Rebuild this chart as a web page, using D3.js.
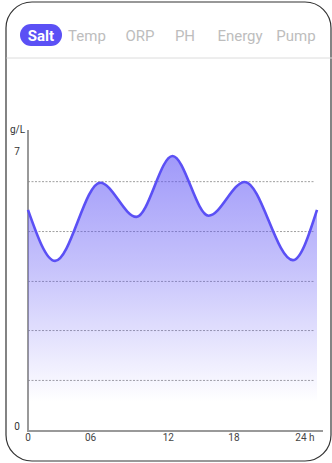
<!DOCTYPE html>
<html>
<head>
<meta charset="utf-8">
<script src="https://cdn.jsdelivr.net/npm/d3@7"></script>
<style>
  html, body { margin: 0; padding: 0; background: #fff; }
  svg { display: block; font-family: Roboto, "Noto Sans", sans-serif; }
</style>
</head>
<body>
<svg width="332" height="463"></svg>
<script>
// tabs along the top
const tabs = ["Salt", "Temp", "ORP", "PH", "Energy", "Pump"];
const tabCenters = [41, 87, 140, 185, 240, 296];
const activeTab = "Salt";

// salt level over the day (g/L)
const hours = [0, 2.25, 6, 9, 12, 15, 18, 22, 24];
const salt = [5.63, 4.33, 6.32, 5.45, 7.0, 5.48, 6.34, 4.35, 5.63];

const gridValues = [1.3, 2.57, 3.82, 5.09, 6.36];
const yTicks = [0, 7];
const xTickLabels = ["0", "06", "12", "18", "24 h"];
const xTickHours = [0, 5.2, 11.65, 17.1, 23.8];

const svg = d3.select("svg");

// card
svg.append("rect")
    .attr("x", 6).attr("y", 2)
    .attr("width", 325).attr("height", 459)
    .attr("rx", 26).attr("ry", 26)
    .attr("fill", "#fff")
    .attr("stroke", "#333")
    .attr("stroke-width", 1.2);

svg.append("line")
    .attr("x1", 6.5).attr("x2", 332)
    .attr("y1", 58).attr("y2", 58)
    .attr("stroke", "#dcdcdc");

// tab bar
const tabG = svg.append("g");
tabG.append("rect")
    .attr("x", 20).attr("y", 24)
    .attr("width", 42).attr("height", 22)
    .attr("rx", 11)
    .attr("fill", "#5b50f5");

tabG.selectAll("text.tab")
    .data(tabs)
    .enter().append("text")
    .attr("class", "tab")
    .attr("x", (d, i) => tabCenters[i])
    .attr("y", 40.5)
    .attr("text-anchor", "middle")
    .attr("font-size", 15)
    .attr("font-weight", d => d == activeTab ? 700 : 400)
    .attr("fill", d => d == activeTab ? "#fff" : "#bdbdbd")
    .text(d => d);

// scales
const x = d3.scaleLinear().domain([0, 24]).range([28, 317]);
const y = d3.scaleLinear().domain([0, 7]).range([431, 156]);

// gradient for area
const defs = svg.append("defs");
const grad = defs.append("linearGradient")
    .attr("id", "saltFill")
    .attr("gradientUnits", "userSpaceOnUse")
    .attr("x1", 0).attr("x2", 0)
    .attr("y1", y(7)).attr("y2", 402);
grad.append("stop").attr("offset", 0).attr("stop-color", "#5b50f5").attr("stop-opacity", 0.58);
grad.append("stop").attr("offset", 0.45).attr("stop-color", "#5b50f5").attr("stop-opacity", 0.35);
grad.append("stop").attr("offset", 1).attr("stop-color", "#5b50f5").attr("stop-opacity", 0);

// axes (drawn under the area)
svg.append("line")
    .attr("x1", 28).attr("x2", 28)
    .attr("y1", 130).attr("y2", 431)
    .attr("stroke", "#777")
    .attr("stroke-width", 1.5);

svg.append("line")
    .attr("x1", 27).attr("x2", 323)
    .attr("y1", y(0)).attr("y2", y(0))
    .attr("stroke", "#999")
    .attr("stroke-width", 2);

// grid
svg.selectAll("line.grid")
    .data(gridValues)
    .enter().append("line")
    .attr("class", "grid")
    .attr("x1", 28).attr("x2", 315)
    .attr("y1", d => y(d) + 0.5).attr("y2", d => y(d) + 0.5)
    .attr("stroke", "#888")
    .attr("stroke-width", 0.8)
    .attr("stroke-dasharray", "2,1.5");

const pts = hours.map((h, i) => [h, salt[i]]);

const area = d3.area()
    .x(d => x(d[0]))
    .y0(y(0))
    .y1(d => y(d[1]))
    .curve(d3.curveMonotoneX);

const line = d3.line()
    .x(d => x(d[0]))
    .y(d => y(d[1]))
    .curve(d3.curveMonotoneX);

svg.append("path")
    .datum(pts)
    .attr("d", area)
    .attr("fill", "url(#saltFill)");

svg.append("path")
    .datum(pts)
    .attr("d", line)
    .attr("fill", "none")
    .attr("stroke", "#5b50f5")
    .attr("stroke-width", 2.6);

// y labels
svg.append("text")
    .attr("x", 10).attr("y", 133)
    .attr("font-size", 10)
    .attr("fill", "#333")
    .text("g/L");

svg.selectAll("text.ylab")
    .data(yTicks)
    .enter().append("text")
    .attr("class", "ylab")
    .attr("x", 17)
    .attr("y", d => y(d) - 1)
    .attr("text-anchor", "middle")
    .attr("font-size", 10)
    .attr("fill", "#333")
    .text(d => d);

// x labels
svg.selectAll("text.xlab")
    .data(xTickLabels)
    .enter().append("text")
    .attr("class", "xlab")
    .attr("x", (d, i) => x(xTickHours[i]))
    .attr("y", 441)
    .attr("text-anchor", (d, i) => i == xTickLabels.length - 1 ? "end" : "middle")
    .attr("font-size", 10)
    .attr("fill", "#444")
    .text(d => d);
</script>
</body>
</html>
